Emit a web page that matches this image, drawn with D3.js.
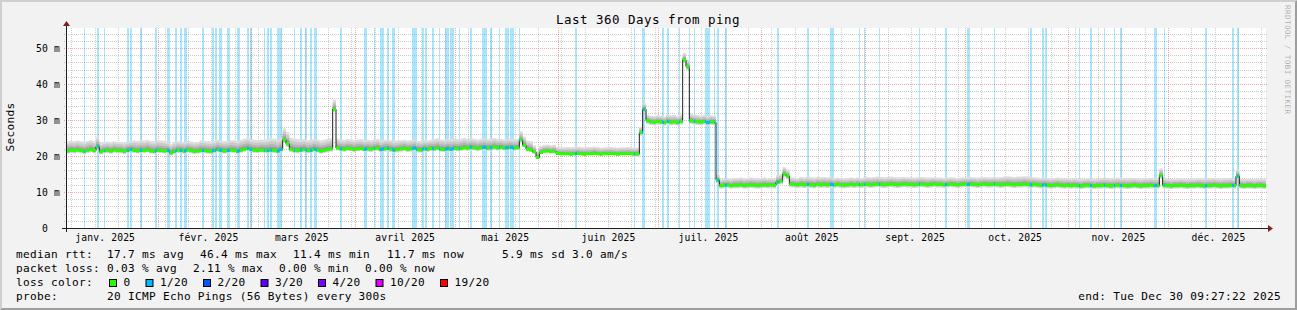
<!DOCTYPE html>
<html>
<head>
<meta charset="utf-8">
<script src="https://cdn.jsdelivr.net/npm/d3@7"></script>
<style>
body { margin: 0; background: #f2f2f2; }
svg { display: block; }
text { font-family: "DejaVu Sans Mono", monospace; white-space: pre; }
</style>
</head>
<body>
<script>
const width = 1297;
const height = 310;

// time axis: 360 days ending Tue Dec 30 09:27:22 2025 (day-of-year units)
const startDoy = 3 + (9 * 3600 + 27 * 60 + 22) / 86400;
const spanDays = 360;
const monthStarts = [0, 31, 59, 90, 120, 151, 181, 212, 243, 273, 304, 334];
const monthLabels = ['janv. 2025', 'févr. 2025', 'mars 2025', 'avril 2025', 'mai 2025', 'juin 2025',
	'juil. 2025', 'août 2025', 'sept. 2025', 'oct. 2025', 'nov. 2025', 'déc. 2025'];
const firstMonday = 5;
const yTicks = [0, 10, 20, 30, 40, 50];
const yLabels = ['0  ', '10 m', '20 m', '30 m', '40 m', '50 m'];

// median rtt in ms, one value per day
const median = [
	21.4, 21.6, 21.5, 21.7, 21.5, 21.3, 21.6, 21.8, 21.5, 22.6, 21.2, 21.5, 21.6, 21.4, 21.7, 21.5, 21.5, 21.3, 21.6, 21.8, 21.5, 21.4, 21.6, 21.5, 21.7, 21.4, 21.3, 21.6, 21.5, 21.4,
	21.5, 20.9, 21.3, 21.6, 21.5, 21.4, 21.7, 21.5, 21.3, 21.4, 21.6, 21.5, 21.4, 21.3, 21.5, 21.8, 21.6, 21.4, 21.5, 21.7, 21.5, 21.3, 21.6, 21.9, 22.1, 21.8, 21.6, 21.5, 21.7, 21.6,
	21.5, 21.7, 21.6, 21.4, 21.8, 24.5, 23.4, 21.9, 21.6, 21.5, 21.7, 21.8, 21.5, 21.6, 21.9, 21.7, 21.4, 21.6, 21.8, 22.0, 33.0, 22.2, 22.0, 21.9, 22.1, 22.0, 21.8, 22.0, 22.1, 21.9,
	22.0, 21.9, 22.1, 22.2, 21.8, 22.0, 22.1, 21.9, 21.7, 21.8, 22.0, 22.1, 21.9, 22.0, 22.2, 21.8, 21.7, 22.0, 21.9, 22.1, 22.0, 22.2, 21.9, 21.8, 22.0, 21.9, 22.1, 22.0, 22.1, 22.3,
	22.2, 22.4, 22.3, 22.1, 22.3, 22.4, 22.2, 22.3, 22.5, 22.3, 22.4, 22.2, 22.3, 22.4, 22.2, 22.3, 24.5, 23.0, 21.9, 21.7, 21.1, 19.6, 21.0, 21.3, 21.4, 21.2, 21.3, 20.7, 20.6, 20.6,
	20.6, 20.5, 20.6, 20.7, 20.6, 20.5, 20.6, 20.6, 20.7, 20.6, 20.5, 20.6, 20.6, 20.7, 20.6, 20.5, 20.6, 20.6, 20.7, 20.6, 20.6, 20.6, 26.5, 33.0, 29.8, 29.5, 29.4, 29.6, 29.5, 29.3,
	29.6, 29.4, 29.5, 29.3, 29.6, 46.7, 44.8, 29.8, 29.6, 29.5, 29.4, 29.6, 29.3, 29.5, 29.4, 13.3, 11.8, 11.9, 12.0, 11.8, 11.9, 11.9, 12.0, 11.8, 11.9, 12.0, 11.9, 11.8, 11.9, 12.0,
	11.9, 12.0, 11.9, 12.8, 13.0, 15.0, 14.4, 12.2, 12.1, 12.0, 12.1, 12.0, 12.1, 12.0, 11.9, 12.1, 12.0, 12.1, 12.0, 12.1, 12.0, 12.1, 12.0, 11.9, 12.0, 12.1, 12.0, 12.1, 12.0, 12.1,
	12.1, 12.0, 12.1, 12.2, 12.1, 12.0, 12.1, 12.2, 12.1, 12.0, 12.1, 12.2, 12.1, 12.1, 12.0, 12.1, 12.2, 12.1, 12.0, 12.1, 12.2, 12.1, 12.1, 12.0, 12.1, 12.2, 12.1, 12.0, 12.1, 12.2,
	12.1, 12.2, 12.1, 12.0, 12.1, 12.2, 12.1, 12.1, 12.2, 12.1, 12.0, 12.1, 12.2, 12.1, 12.0, 12.1, 12.1, 12.2, 12.1, 12.0, 12.1, 12.0, 11.9, 12.0, 11.9, 11.8, 11.9, 12.0, 11.9, 11.8,
	11.9, 11.8, 11.9, 11.8, 11.7, 11.8, 11.9, 11.8, 11.7, 11.8, 11.8, 11.9, 11.8, 11.7, 11.8, 11.9, 11.8, 11.8, 11.7, 11.8, 11.9, 11.8, 11.7, 11.8, 11.8, 11.9, 11.8, 11.8, 14.6, 11.9,
	11.8, 11.7, 11.8, 11.8, 11.9, 11.8, 11.7, 11.8, 11.8, 11.9, 11.8, 11.7, 11.8, 11.8, 11.9, 11.8, 11.7, 11.8, 11.8, 11.9, 11.8, 14.4, 11.8, 11.7, 11.8, 11.8, 11.7, 11.8, 11.8, 11.7
];

// smoke spread above / below the median in ms, one value per 10 days
const smokeUp = [2.6, 2.4, 2.8, 2.5, 2.7, 2.9, 3.2, 2.9, 2.6, 2.5, 2.4, 2.7, 2.5, 2.4,
	1.8, 1.9, 1.8, 1.7, 1.9, 1.8, 2.0, 1.9, 2.1, 1.9, 2.1, 2.0, 1.9, 2.0, 2.2, 2.0, 1.9, 2.1, 2.0, 1.9, 2.0, 1.9];
const smokeDown = [0.8, 0.8, 0.7, 0.8, 0.8, 0.7, 0.8, 0.8, 0.7, 0.8, 0.8, 0.7, 0.8, 0.6,
	0.4, 0.4, 0.4, 0.9, 0.9, 0.9, 0.9, 0.9, 0.9, 0.9, 0.9, 0.9, 0.9, 0.9, 0.9, 0.9, 0.9, 0.9, 0.9, 0.9, 0.9, 0.9];

// periods with 1/20 packet loss: [day of year, duration in days]
const lossEvents = [
	[8.8, .3], [12.6, .8], [14.7, .4], [21.6, .8], [22.5, .7], [25.6, .6], [30.1, .7], [33.6, 1.0], [36.1, .7], [37.6, .7],
	[38.8, .9], [44.2, .6], [47.2, .6], [48.1, .7], [49.3, .9], [51.7, .9], [54.7, .9], [57.7, .6], [58.6, .6], [62.8, .3],
	[63.7, .6], [64.6, .6], [66.7, 1.5], [71.8, .3], [73.6, .6], [75.1, .6], [76.6, .6], [77.8, .9], [85.6, .6], [92.8, .9],
	[95.8, .3], [97.6, 1.2], [99.7, .6], [101.2, .9], [107.2, 1.5], [110.2, .6], [111.1, .6], [113.2, .6], [115.3, .3], [117.1, 1.2],
	[118.6, 1.2], [121.3, .3], [124.6, .6], [128.2, 1.5], [130.6, .6], [133.3, .3], [135.1, 1.2], [136.6, 1.2], [139.3, .3], [156.1, .6],
	[173.8, .3], [176.2, .9], [182.2, .6], [183.7, .6], [187.3, .3], [190.3, .3], [191.8, .3], [195.1, 1.5], [197.8, .3], [198.7, .6],
	[201.1, .6], [216.7, .6], [225.7, .6], [232.6, 1.2], [241.3, .3], [242.8, .3], [247.3, .3], [259.3, .3], [267.1, .6], [273.7, .9],
	[281.8, .3], [292.6, .6], [296.2, .6], [297.1, .6], [307.3, .3], [310.6, .6], [314.8, .3], [317.8, .3], [319.6, .6], [329.8, .9],
	[332.8, .3], [345.1, .6], [353.2, .6], [354.7, .6]
];

const lossNames = ['0', '1/20', '2/20', '3/20', '4/20', '10/20', '19/20'];
const lossColors = ['#26ff00', '#00b8ff', '#0059ff', '#5e00ff', '#7e00ff', '#dd00ff', '#ff0000'];
const rttStats = [17.7, 46.4, 11.4, 11.7, 5.9, 3.0];
const lossStats = [0.03, 2.11, 0.00, 0.00];

const x0 = 66, x1 = 1266, yTop = 28, yBot = 228;

const svg = d3.select('body').append('svg')
	.attr('width', width)
	.attr('height', height);

// background + 3d frame
svg.append('rect').attr('width', width).attr('height', height).style('fill', '#f2f2f2');
svg.append('polygon')
	.attr('points', [[0, height], [2, height - 2], [2, 2], [width - 2, 2], [width, 0], [0, 0]].join(' '))
	.style('fill', '#cfcfcf');
svg.append('polygon')
	.attr('points', [[2, height - 2], [width - 2, height - 2], [width - 2, 2], [width, 0], [width, height], [0, height]].join(' '))
	.style('fill', '#9e9e9e');

let x = d3.scaleLinear().domain([startDoy, startDoy + spanDays]).range([x0, x1]);
let y = d3.scaleLinear().domain([0, (yBot - yTop) / 3.6]).range([yBot, yTop]);

svg.append('rect')
	.attr('x', x0).attr('y', yTop)
	.attr('width', x1 - x0).attr('height', yBot - yTop)
	.style('fill', '#ffffff');

// loss background bars
svg.append('g').selectAll('rect')
	.data(lossEvents)
	.enter().append('rect')
	.attr('x', d => Math.round(x(d[0])))
	.attr('y', yTop)
	.attr('width', d => Math.max(1, Math.round(x(d[0] + d[1])) - Math.round(x(d[0]))))
	.attr('height', yBot - yTop)
	.style('fill', '#a9e5fb');

// grid
let grid = svg.append('g');
let mondays = d3.range(firstMonday, startDoy + spanDays, 7).filter(d => monthStarts.indexOf(d) < 0);
grid.selectAll('.vminor').data(mondays).enter().append('line')
	.attr('x1', d => Math.round(x(d)) + 0.5).attr('x2', d => Math.round(x(d)) + 0.5)
	.attr('y1', yTop).attr('y2', yBot + 2)
	.style('stroke', 'rgba(143,143,143,0.75)').style('stroke-width', 0.6)
	.style('stroke-dasharray', '1,1');
let yMinor = d3.range(2, 56, 2).filter(d => d % 10 !== 0);
grid.selectAll('.hminor').data(yMinor).enter().append('line')
	.attr('x1', x0 - 2).attr('x2', x1 + 2)
	.attr('y1', d => Math.round(y(d)) + 0.5).attr('y2', d => Math.round(y(d)) + 0.5)
	.style('stroke', 'rgba(143,143,143,0.75)').style('stroke-width', 0.6)
	.style('stroke-dasharray', '1,1');
grid.selectAll('.vmajor').data(monthStarts.slice(1)).enter().append('line')
	.attr('x1', d => Math.round(x(d)) + 0.5).attr('x2', d => Math.round(x(d)) + 0.5)
	.attr('y1', yTop).attr('y2', yBot + 2)
	.style('stroke', 'rgba(222,79,79,0.6)').style('stroke-width', 0.8)
	.style('stroke-dasharray', '1,1');
grid.selectAll('.hmajor').data(yTicks.slice(1)).enter().append('line')
	.attr('x1', x0 - 2).attr('x2', x1 + 2)
	.attr('y1', d => Math.round(y(d)) + 0.5).attr('y2', d => Math.round(y(d)) + 0.5)
	.style('stroke', 'rgba(222,79,79,0.6)').style('stroke-width', 0.8)
	.style('stroke-dasharray', '1,1');

// smoke
let pts = median.map((m, i) => ({ d: startDoy + i, m: m, up: smokeUp[Math.floor(i / 10)], dn: smokeDown[Math.floor(i / 10)] }));
pts.push(Object.assign({}, pts[pts.length - 1], { d: startDoy + spanDays }));

const layers = [[1.0, '#dedede'], [0.75, '#cacaca'], [0.5, '#b4b4b4'], [0.28, '#9c9c9c']];
for (let [f, col] of layers) {
	svg.append('path')
		.datum(pts)
		.attr('d', d3.area().curve(d3.curveStepAfter)
			.x(p => x(p.d))
			.y0(p => y(p.m - p.dn * f))
			.y1(p => y(p.m + p.up * f)))
		.style('fill', col);
}

// median line and loss-coloured band
svg.append('path')
	.datum(pts)
	.attr('d', d3.line().curve(d3.curveStepAfter).x(p => x(p.d)).y(p => y(p.m)))
	.style('fill', 'none')
	.style('stroke', '#202020')
	.style('stroke-width', 1);

let band = d3.area().curve(d3.curveStepAfter)
	.x(p => x(p.d))
	.y0(p => y(p.m) + 1.5)
	.y1(p => y(p.m) - 1.5);

svg.append('path').datum(pts).attr('d', band).style('fill', lossColors[0]);

let clip = svg.append('clipPath').attr('id', 'lossclip');
clip.selectAll('rect').data(lossEvents).enter().append('rect')
	.attr('x', d => Math.round(x(d[0])))
	.attr('y', yTop)
	.attr('width', d => Math.max(1, Math.round(x(d[0] + d[1])) - Math.round(x(d[0]))))
	.attr('height', yBot - yTop);
svg.append('path').datum(pts).attr('d', band)
	.attr('clip-path', 'url(#lossclip)')
	.style('fill', lossColors[1]);

// axes
svg.append('line')
	.attr('x1', x0 - 4).attr('x2', x1 + 4)
	.attr('y1', yBot + 0.5).attr('y2', yBot + 0.5)
	.style('stroke', '#1f1f1f').style('stroke-width', 1);
svg.append('line')
	.attr('x1', x0 + 0.5).attr('x2', x0 + 0.5)
	.attr('y1', yBot + 4).attr('y2', yTop - 4)
	.style('stroke', '#1f1f1f').style('stroke-width', 1);
svg.append('polygon')
	.attr('points', [[x1 + 2, yBot - 3], [x1 + 2, yBot + 4], [x1 + 7, yBot + 0.5]].join(' '))
	.style('fill', '#801f1f');
svg.append('polygon')
	.attr('points', [[x0 - 3, yTop - 2], [x0 + 4, yTop - 2], [x0 + 0.5, yTop - 7]].join(' '))
	.style('fill', '#801f1f');

let xAxis = svg.append('g')
	.attr('transform', 'translate(0,' + yBot + ')')
	.call(d3.axisBottom(x)
		.tickValues(monthStarts.map(d => d + 15))
		.tickFormat((d, i) => monthLabels[i])
		.tickSize(0)
		.tickPadding(6));
xAxis.select('.domain').remove();
xAxis.selectAll('text')
	.style('font-family', '"DejaVu Sans Mono", monospace')
	.style('font-size', '9.7px')
	.style('letter-spacing', '0.15px')
	.style('fill', '#000');

let yAxis = svg.append('g')
	.attr('transform', 'translate(' + x0 + ',0)')
	.call(d3.axisLeft(y)
		.tickValues(yTicks)
		.tickFormat((d, i) => yLabels[i])
		.tickSize(0)
		.tickPadding(6));
yAxis.select('.domain').remove();
yAxis.selectAll('text')
	.attr('dy', '0.4em')
	.style('font-family', '"DejaVu Sans Mono", monospace')
	.style('font-size', '9.7px')
	.style('letter-spacing', '0.15px')
	.style('fill', '#000');

// title, unit, watermark
svg.append('text')
	.attr('x', 648).attr('y', 24)
	.attr('text-anchor', 'middle')
	.style('font-size', '12.5px')
	.style('letter-spacing', '0.47px')
	.text('Last 360 Days from ping');

svg.append('text')
	.attr('transform', 'translate(14,127) rotate(-90)')
	.attr('text-anchor', 'middle')
	.style('font-size', '11.1px')
	.style('letter-spacing', '0.31px')
	.text('Seconds');

svg.append('text')
	.attr('transform', 'translate(1285,5) rotate(90)')
	.style('font-size', '7.6px')
	.style('letter-spacing', '0.4px')
	.style('fill', 'rgba(0,0,0,0.3)')
	.text('RRDTOOL / TOBI OETIKER');

// legend
function legendText(str, lx, ly, anchor) {
	svg.append('text')
		.attr('x', lx).attr('y', ly)
		.attr('text-anchor', anchor || 'start')
		.style('font-size', '11.1px')
		.style('letter-spacing', '0.31px')
		.text(str);
}

legendText('median rtt:', 16, 258);
legendText(rttStats[0].toFixed(1) + ' ms avg', 107, 258);
legendText(rttStats[1].toFixed(1) + ' ms max', 200, 258);
legendText(rttStats[2].toFixed(1) + ' ms min', 293, 258);
legendText(rttStats[3].toFixed(1) + ' ms now', 387, 258);
legendText(rttStats[4].toFixed(1) + ' ms sd', 502, 258);
legendText(rttStats[5].toFixed(1), 572, 258);
legendText('am/s', 600, 258);

legendText('packet loss:', 16, 272);
legendText(lossStats[0].toFixed(2) + ' % avg', 107, 272);
legendText(lossStats[1].toFixed(2) + ' % max', 193, 272);
legendText(lossStats[2].toFixed(2) + ' % min', 279, 272);
legendText(lossStats[3].toFixed(2) + ' % now', 365, 272);

legendText('loss color:', 16, 286);
let cx = 109;
for (let i = 0; i < lossNames.length; i++) {
	svg.append('rect')
		.attr('x', cx + 0.5).attr('y', 279.5)
		.attr('width', 7).attr('height', 7)
		.style('fill', lossColors[i])
		.style('stroke', '#000')
		.style('stroke-width', 1);
	legendText(lossNames[i], cx + 14.5, 286);
	cx += 14.5 + lossNames[i].length * 7 + 15;
}

legendText('probe:', 16, 300);
legendText('20 ICMP Echo Pings (56 Bytes) every 300s', 107, 300);
legendText('end: Tue Dec 30 09:27:22 2025', 1281, 300, 'end');
</script>
</body>
</html>
